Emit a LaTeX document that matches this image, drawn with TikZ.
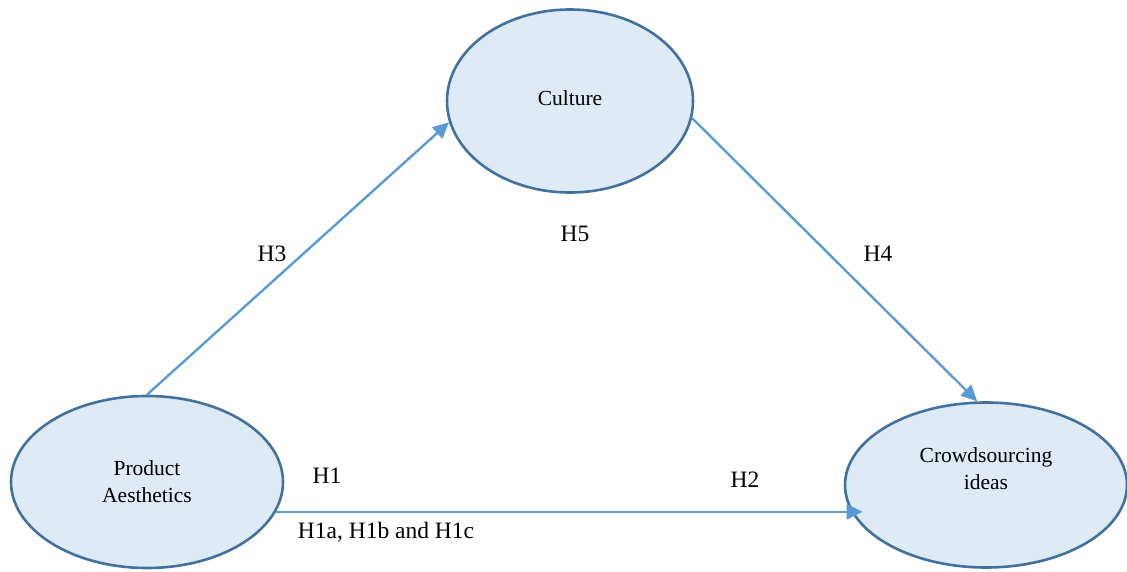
\documentclass[tikz,border=0pt]{standalone}
\usepackage{fontspec}
\setmainfont{Liberation Serif}
\usetikzlibrary{arrows.meta,shapes.geometric}
\definecolor{ellfill}{RGB}{222,234,246}
\definecolor{elledge}{RGB}{65,113,156}
\definecolor{arrcol}{RGB}{91,155,213}
\begin{document}
\begin{tikzpicture}[x=1pt,y=-1pt,
  ell/.style={ellipse,draw=elledge,fill=ellfill,line width=2.6pt,inner sep=0pt},
  ntext/.style={align=center,font=\fontsize{21.5}{27}\selectfont,inner sep=0pt},
  hlabel/.style={font=\fontsize{23.5}{28}\selectfont,inner sep=0pt},
  arr/.style={draw=arrcol,line width=2.4pt,-{Triangle[length=16pt,width=15pt]}}]
\useasboundingbox (0,0) rectangle (1127,571);
% the three constructs
\node[ell,minimum width=246pt,minimum height=183pt] (cul) at (570,101) {};
\node[ell,minimum width=272pt,minimum height=172pt] (pa) at (147,482) {};
\node[ell,minimum width=282pt,minimum height=165pt] (cr) at (986,485) {};
\node[ntext] (cult) at ([yshift=3pt]cul.center) {Culture};
\node[ntext] (pat) at (pa.center) {Product\\Aesthetics};
\node[ntext] (crt) at ([yshift=16pt]cr.center) {Crowdsourcing\\ideas};
% hypothesised paths
\draw[arr] (pa.north) -- (cul.190);
\draw[arr] (cul.-8.8) -- (cr.96);
\draw[arr,shorten >=-19pt] (pa.-13) -- (pa.-13 -| cr.west);
% hypothesis labels
\node[hlabel] (h3) at (272,254) {H3};
\node[hlabel] (h5) at (575,234) {H5};
\node[hlabel] (h4) at (878,254) {H4};
\node[hlabel] (h1) at (327,476) {H1};
\node[hlabel] (h2) at (745,480) {H2};
\node[hlabel] (h1abc) at (386,532) {H1a, H1b and H1c};
\end{tikzpicture}
\end{document}
